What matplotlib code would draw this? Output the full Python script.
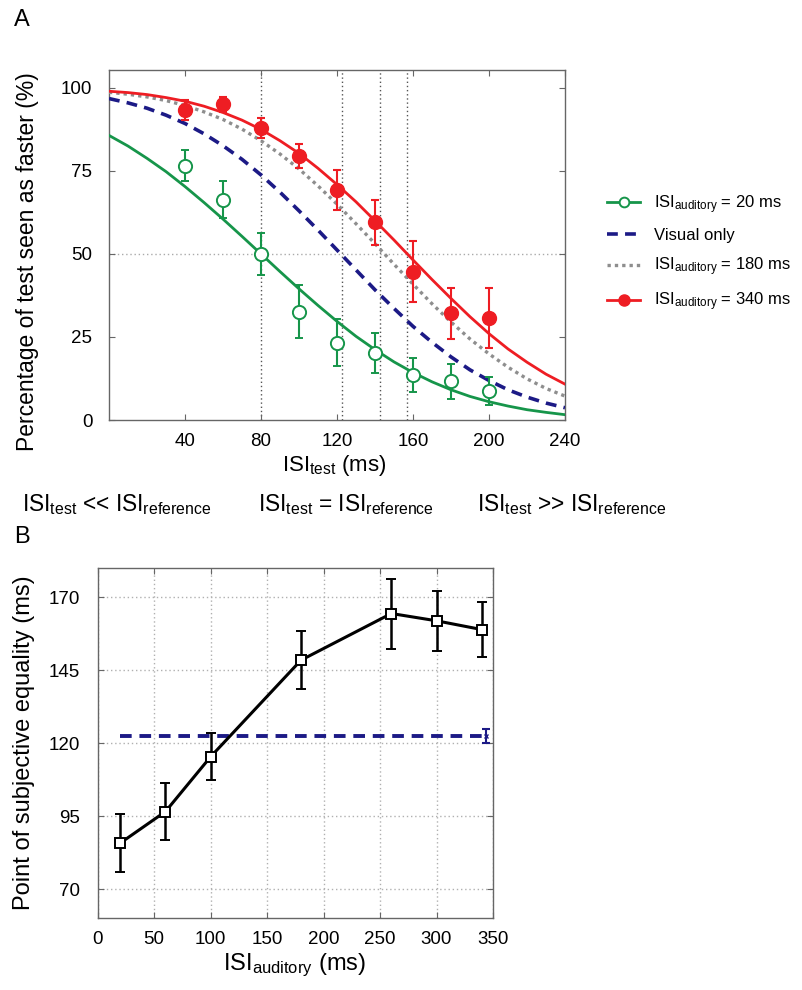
import numpy as np
import matplotlib
matplotlib.use("Agg")
import matplotlib.pyplot as plt
from matplotlib.lines import Line2D

plt.rcParams['font.family'] = ['Liberation Sans', 'DejaVu Sans']
plt.rcParams['mathtext.fontset'] = 'custom'
plt.rcParams['mathtext.rm'] = 'Liberation Sans'
plt.rcParams['mathtext.it'] = 'Liberation Sans:italic'
plt.rcParams['mathtext.bf'] = 'Liberation Sans:bold'

# ---------------- Panel A data ----------------
curve_x = [0, 10, 20, 30, 40, 50, 60, 70, 80, 90, 100, 110, 120,
           130, 140, 150, 160, 170, 180, 190, 200, 210, 220, 230, 240]
curve_20 = [85.7, 82.5, 78.8, 74.8, 70.3, 65.5, 60.5, 55.3, 50.0, 44.7, 39.5, 34.5, 29.7,
            25.2, 21.2, 17.5, 14.3, 11.5, 9.1, 7.1, 5.5, 4.2, 3.1, 2.3, 1.6]
curve_visual = [96.8, 95.5, 93.9, 91.8, 89.3, 86.2, 82.6, 78.5, 73.8, 68.6, 63.0, 57.2, 51.2,
                45.2, 39.2, 33.6, 28.2, 23.4, 19.0, 15.1, 11.9, 9.1, 6.9, 5.1, 3.7]
curve_180 = [98.7, 98.1, 97.3, 96.2, 94.7, 92.8, 90.5, 87.6, 84.1, 80.1, 75.6, 70.5, 65.0,
             59.1, 53.1, 46.9, 40.9, 35.0, 29.5, 24.4, 19.9, 15.9, 12.4, 9.5, 7.2]
curve_340 = [99.0, 98.6, 98.0, 97.1, 96.0, 94.5, 92.6, 90.3, 87.5, 84.1, 80.3, 75.8, 70.9,
             65.7, 60.0, 54.2, 48.2, 42.3, 36.6, 31.1, 26.0, 21.4, 17.4, 13.8, 10.8]

pts_x = [40, 60, 80, 100, 120, 140, 160, 180, 200]
pts_20 = [76.6, 66.4, 50.0, 32.6, 23.3, 20.1, 13.6, 11.7, 8.8]
err_20 = [4.7, 5.7, 6.3, 8.0, 7.0, 6.0, 5.2, 5.3, 4.2]
pts_340 = [93.4, 95.1, 87.9, 79.5, 69.3, 59.6, 44.7, 32.2, 30.7]
err_340 = [3.0, 2.3, 3.0, 3.7, 6.0, 6.8, 9.2, 7.7, 9.0]

pse_lines = [80, 122.5, 142.5, 157]
half_level = 50

a_xticks = [40, 80, 120, 160, 200, 240]
a_yticks = [0, 25, 50, 75, 100]

legend_labels = [r'ISI$_{\mathrm{auditory}}$ = 20 ms', 'Visual only',
                 r'ISI$_{\mathrm{auditory}}$ = 180 ms', r'ISI$_{\mathrm{auditory}}$ = 340 ms']

# ---------------- Panel B data ----------------
b_x = [20, 60, 100, 180, 260, 300, 340]
b_pse = [85.8, 96.6, 115.4, 148.5, 164.5, 162.0, 159.0]
b_err = [10.0, 9.7, 8.0, 9.9, 12.0, 10.3, 9.5]
visual_pse = 122.5
visual_err = 2.3
visual_span = [20, 344]
b_xticks = [0, 50, 100, 150, 200, 250, 300, 350]
b_yticks = [70, 95, 120, 145, 170]

GREEN = '#16954a'
RED = '#ee1d23'
BLUE = '#1c1a86'
GRAY = '#8e8e8e'
SPINE = '#666666'

fig = plt.figure(figsize=(8.02, 9.90), dpi=100)

# ---------------- Panel A ----------------
axA = fig.add_axes([109/802, 1-420/990, (565-109)/802, (420-70)/990])
axA.set_xlim(0, 240)
axA.set_ylim(0, 105.4)

for v in pse_lines:
    axA.axvline(v, color='#555555', lw=1.0, ls=(0, (1, 2)), zorder=1)
axA.axhline(half_level, color='#aaaaaa', lw=1.0, ls=(0, (1, 2)), zorder=1)

axA.plot(curve_x, curve_20, color=GREEN, lw=2.0, zorder=3)
axA.plot(curve_x, curve_visual, color=BLUE, lw=2.6, ls=(0, (3, 2)), zorder=3)
axA.plot(curve_x, curve_180, color=GRAY, lw=2.4, ls=(0, (1, 1.2)), zorder=3)
axA.plot(curve_x, curve_340, color=RED, lw=2.0, zorder=3)

axA.errorbar(pts_x, pts_20, yerr=err_20, fmt='o', ms=9.5, mfc='white', mec=GREEN,
             mew=1.4, ecolor=GREEN, elinewidth=1.5, capsize=3, capthick=1.5, zorder=4)
axA.errorbar(pts_x, pts_340, yerr=err_340, fmt='o', ms=10, mfc=RED, mec=RED,
             ecolor=RED, elinewidth=1.5, capsize=3, capthick=1.5, zorder=4)

axA.set_xticks(a_xticks)
axA.set_yticks(a_yticks)
axA.tick_params(direction='in', length=4, width=0.8, color=SPINE, labelsize=13.5,
                top=True, right=True)
axA.tick_params(axis='y', pad=12)
axA.tick_params(axis='x', pad=9)
for s in axA.spines.values():
    s.set_color(SPINE)
    s.set_linewidth(1.0)

fig.text(334/802, 1-466/990, r'ISI$_{\mathrm{test}}$ (ms)', ha='center', va='center', fontsize=16)
fig.text(28/802, 1-262/990, 'Percentage of test seen as faster (%)', rotation=90,
         ha='center', va='center', fontsize=16.5)
fig.text(14/802, 1-20/990, 'A', ha='left', va='center', fontsize=17)

row_y = 1-505/990
fig.text(22/802, row_y, r'ISI$_{\mathrm{test}}$ << ISI$_{\mathrm{reference}}$', ha='left', va='center', fontsize=16.3)
fig.text(258/802, row_y, r'ISI$_{\mathrm{test}}$ = ISI$_{\mathrm{reference}}$', ha='left', va='center', fontsize=16.3)
fig.text(477/802, row_y, r'ISI$_{\mathrm{test}}$ >> ISI$_{\mathrm{reference}}$', ha='left', va='center', fontsize=16.3)

handles = [
    Line2D([], [], color=GREEN, lw=2.0, marker='o', ms=7, mfc='white', mec=GREEN, mew=1.4),
    Line2D([], [], color=BLUE, lw=2.6, ls=(0, (3, 2))),
    Line2D([], [], color=GRAY, lw=2.4, ls=(0, (1, 1.2))),
    Line2D([], [], color=RED, lw=2.0, marker='o', ms=8, mfc=RED, mec=RED),
]
fig.legend(handles, legend_labels, loc='upper left', bbox_to_anchor=(592/802, 1-178/990),
           frameon=False, fontsize=12, handlelength=2.0, handletextpad=0.8, labelspacing=0.75)

# ---------------- Panel B ----------------
axB = fig.add_axes([97.7/802, 1-918.3/990, (493-97.7)/802, (918.3-568.3)/990])
axB.set_xlim(0, 350)
axB.set_ylim(60, 180)
axB.set_xticks(b_xticks)
axB.set_yticks(b_yticks)
axB.grid(True, color='#b0b0b0', lw=1.0, ls=(0, (1, 2)))
axB.set_axisbelow(True)

axB.plot(visual_span, [visual_pse, visual_pse], color=BLUE, lw=2.8, ls=(0, (3, 2)), zorder=3)
axB.errorbar([visual_span[1]], [visual_pse], yerr=[visual_err], fmt='x', ms=3, color=BLUE,
             elinewidth=1.5, capsize=3, capthick=1.5, zorder=4)
axB.errorbar(b_x, b_pse, yerr=b_err, fmt='-s', color='black', lw=2.2, ms=7, mfc='white',
             mec='black', mew=1.4, elinewidth=1.8, capsize=3.5, capthick=1.8, zorder=4)

axB.tick_params(direction='in', length=4, width=0.8, color=SPINE, labelsize=13.5,
                top=True, right=True)
axB.tick_params(axis='y', pad=13)
axB.tick_params(axis='x', pad=9)
for s in axB.spines.values():
    s.set_color(SPINE)
    s.set_linewidth(1.0)

fig.text(295/802, 1-965/990, r'ISI$_{\mathrm{auditory}}$ (ms)', ha='center', va='center', fontsize=17)
fig.text(24/802, 1-743/990, 'Point of subjective equality (ms)', rotation=90,
         ha='center', va='center', fontsize=17)
fig.text(14/802, 1-537/990, 'B', ha='left', va='center', fontsize=17)

fig.savefig('out.png', dpi=100)
